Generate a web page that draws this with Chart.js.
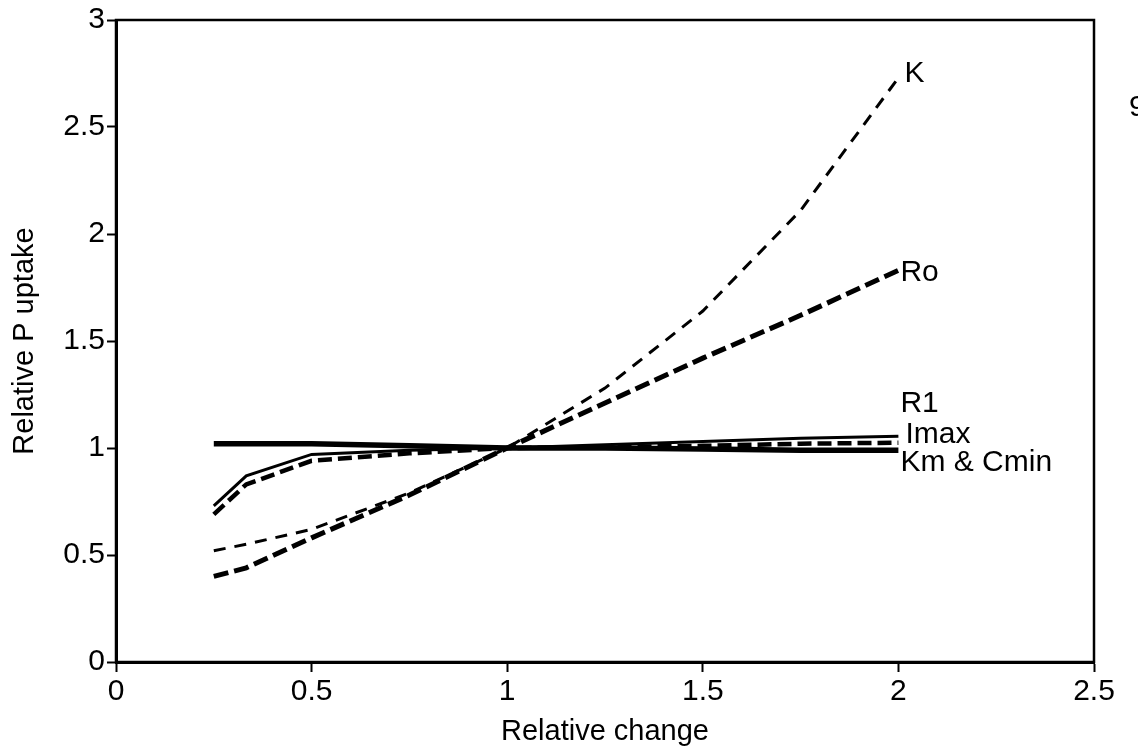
<!DOCTYPE html>
<html>
<head>
<meta charset="utf-8">
<script src="https://cdn.jsdelivr.net/npm/chart.js@4.4.0/dist/chart.umd.min.js"></script>
<style>
  body { margin: 0; background: #fff; }
  #wrap { width: 1138px; height: 753px; }
</style>
</head>
<body>
<div id="wrap"><canvas id="grafico"></canvas></div>
<script>
// relative change in each parameter
const mudanca = [0.25, 0.333, 0.5, 0.75, 1, 1.25, 1.5, 1.75, 2];

// relative P uptake for each parameter
const valoresK = [0.52, 0.55, 0.62, 0.79, 1.0, 1.28, 1.64, 2.11, 2.73];
const valoresRo = [0.40, 0.44, 0.58, 0.78, 1.0, 1.21, 1.42, 1.62, 1.83];
const valoresR1 = [0.73, 0.87, 0.97, 0.99, 1.0, 1.015, 1.03, 1.045, 1.055];
const valoresImax = [0.69, 0.83, 0.94, 0.975, 1.0, 1.005, 1.01, 1.02, 1.025];
const valoresKmCmin = [1.02, 1.02, 1.02, 1.01, 1.0, 1.0, 0.995, 0.99, 0.99];

const nomes = ['K', 'Ro', 'R1', 'Imax', 'Km & Cmin'];
const ticksX = [0, 0.5, 1, 1.5, 2, 2.5];
const ticksY = [0, 0.5, 1, 1.5, 2, 2.5, 3];

const fonte = '"Liberation Sans", Arial, Helvetica, sans-serif';

function pontos(valores) {
  return mudanca.map((x, i) => ({ x: x, y: valores[i] }));
}

// line style and label offset for every curve
const estilos = [
  { largura: 3, traco: [12, 9], dx: 6, dy: -4 },
  { largura: 5, traco: [15, 6], dx: 2, dy: 2 },
  { largura: 3, traco: [], dx: 2, dy: -32 },
  { largura: 4.5, traco: [14, 6], dx: 7, dy: -8 },
  { largura: 5.5, traco: [], dx: 2, dy: 13 }
];

const series = [valoresK, valoresRo, valoresR1, valoresImax, valoresKmCmin];

const datasets = series.map((valores, i) => ({
  label: nomes[i],
  data: pontos(valores),
  borderColor: '#000',
  borderWidth: estilos[i].largura,
  borderDash: estilos[i].traco,
  pointRadius: 0,
  fill: false,
  tension: 0
}));

// names at the end of the curves, frame and the cut-off figure number
const rotulos = {
  id: 'rotulos',
  afterDatasetsDraw(chart) {
    const ctx = chart.ctx;
    ctx.save();
    ctx.fillStyle = '#000';
    ctx.font = '30px ' + fonte;
    ctx.textAlign = 'left';
    ctx.textBaseline = 'middle';
    chart.data.datasets.forEach((ds, i) => {
      const meta = chart.getDatasetMeta(i);
      const ultimo = meta.data[meta.data.length - 1];
      ctx.fillText(ds.label, ultimo.x + estilos[i].dx, ultimo.y + estilos[i].dy);
    });
    ctx.fillText('9', 1129, 108);

    const a = chart.chartArea;
    ctx.strokeStyle = '#000';
    ctx.lineWidth = 2.5;
    ctx.strokeRect(a.left, a.top, a.right - a.left, a.bottom - a.top);
    ctx.restore();
  }
};

const fundo = {
  id: 'fundo',
  beforeDraw(chart) {
    const ctx = chart.ctx;
    ctx.save();
    ctx.fillStyle = '#fff';
    ctx.fillRect(0, 0, chart.width, chart.height);
    ctx.restore();
  }
};

new Chart(document.getElementById('grafico'), {
  type: 'line',
  data: { datasets: datasets },
  plugins: [fundo, rotulos],
  options: {
    responsive: true,
    maintainAspectRatio: false,
    animation: false,
    layout: { padding: { top: 14, right: 44, bottom: 0, left: 0 } },
    plugins: {
      legend: { display: false },
      tooltip: { enabled: false }
    },
    scales: {
      x: {
        type: 'linear',
        min: 0,
        max: 2.5,
        afterBuildTicks: (s) => { s.ticks = ticksX.map(v => ({ value: v })); },
        afterFit: (s) => { s.height = 91; },
        ticks: { color: '#000', font: { family: fonte, size: 30 }, padding: 2, maxRotation: 0, callback: (v) => String(v) },
        grid: { drawOnChartArea: false, drawTicks: true, tickLength: 10, tickWidth: 2, color: '#000' },
        border: { display: true, color: '#000', width: 3 },
        title: { display: true, text: 'Relative change', color: '#000', font: { family: fonte, size: 29 }, padding: { top: 0, bottom: 4 } }
      },
      y: {
        type: 'linear',
        min: 0,
        max: 3,
        afterBuildTicks: (s) => { s.ticks = ticksY.map(v => ({ value: v })); },
        afterFit: (s) => { s.width = 116; },
        ticks: { color: '#000', font: { family: fonte, size: 30 }, padding: 2, callback: (v) => String(v) },
        grid: { drawOnChartArea: false, drawTicks: true, tickLength: 9, tickWidth: 2, color: '#000' },
        border: { display: true, color: '#000', width: 3 },
        title: { display: true, text: 'Relative P uptake', color: '#000', font: { family: fonte, size: 29 }, padding: { top: 8, bottom: 0 } }
      }
    }
  }
});
</script>
</body>
</html>
